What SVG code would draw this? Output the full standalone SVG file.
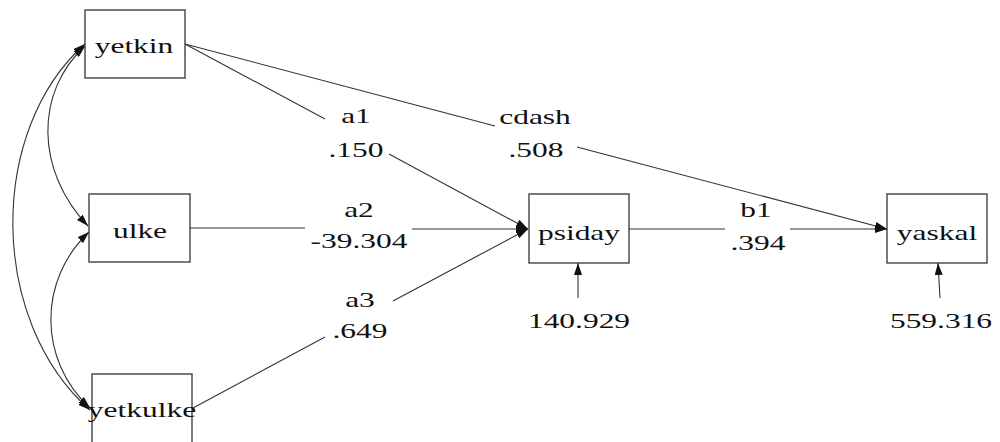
<svg xmlns="http://www.w3.org/2000/svg" width="1000" height="442" viewBox="0 0 1000 442" font-family="Liberation Serif, DejaVu Serif, serif">
  <defs>
    <marker id="ah" viewBox="0 0 12 8" refX="12" refY="4" markerWidth="12" markerHeight="8" markerUnits="userSpaceOnUse" orient="auto-start-reverse">
      <path d="M0,0 L12,4 L0,8 Z" fill="#111"/>
    </marker>
  </defs>
  <style>
    .box { fill: #fff; stroke: #333; stroke-width: 1.3; }
    .ln { fill: none; stroke: #333; stroke-width: 1.1; }
    .t { font-size: 22px; fill: #111; text-anchor: middle; }
  </style>
  <rect width="1000" height="442" fill="#fff"/>

  <g id="connectors">
    <!-- covariances -->
    <path class="ln" d="M85,46 C35,92 35,170 88,226" marker-start="url(#ah)" marker-end="url(#ah)"/>
    <path class="ln" d="M89,232 C38,280 38,360 90,408" marker-start="url(#ah)" marker-end="url(#ah)"/>
    <path class="ln" d="M85,44 C-12,130 -12,320 90,410" marker-start="url(#ah)" marker-end="url(#ah)"/>
    <!-- a1 -->
    <line class="ln" x1="185" y1="44" x2="325" y2="119"/>
    <line class="ln" x1="389" y1="154" x2="528" y2="229" marker-end="url(#ah)"/>
    <!-- cdash -->
    <line class="ln" x1="185" y1="44" x2="495" y2="126"/>
    <line class="ln" x1="577" y1="147" x2="887" y2="229" marker-end="url(#ah)"/>
    <!-- a2 -->
    <line class="ln" x1="190" y1="228" x2="305" y2="228"/>
    <line class="ln" x1="412" y1="229" x2="528" y2="229" marker-end="url(#ah)"/>
    <!-- a3 -->
    <line class="ln" x1="193" y1="408" x2="325" y2="337"/>
    <line class="ln" x1="393" y1="301" x2="528" y2="229" marker-end="url(#ah)"/>
    <!-- b1 -->
    <line class="ln" x1="629" y1="229" x2="725" y2="229"/>
    <line class="ln" x1="790" y1="229" x2="887" y2="229" marker-end="url(#ah)"/>
    <!-- residuals -->
    <line class="ln" x1="578" y1="298" x2="578" y2="263" marker-end="url(#ah)"/>
    <line class="ln" x1="940" y1="298" x2="938" y2="263" marker-end="url(#ah)"/>
  </g>

  <g id="labels" font-family="Liberation Serif, serif">
    <text class="t" transform="translate(356,123) scale(1.43,1)">a1</text>
    <text class="t" transform="translate(356,157) scale(1.43,1)">.150</text>
    <text class="t" transform="translate(535,124) scale(1.43,1)">cdash</text>
    <text class="t" transform="translate(536,157) scale(1.43,1)">.508</text>
    <text class="t" transform="translate(359,217) scale(1.43,1)">a2</text>
    <text class="t" transform="translate(359,248) scale(1.43,1)">-39.304</text>
    <text class="t" transform="translate(360,307) scale(1.43,1)">a3</text>
    <text class="t" transform="translate(360,338) scale(1.43,1)">.649</text>
    <text class="t" transform="translate(756,217) scale(1.43,1)">b1</text>
    <text class="t" transform="translate(758,250) scale(1.43,1)">.394</text>
    <text class="t" transform="translate(579,328) scale(1.43,1)">140.929</text>
    <text class="t" transform="translate(941,328) scale(1.43,1)">559.316</text>
  </g>

  <g id="yetkin">
    <rect class="box" x="85" y="10" width="100" height="68"/>
    <text class="t" font-family="Liberation Serif, serif" transform="translate(134,53) scale(1.43,1)">yetkin</text>
  </g>
  <g id="ulke">
    <rect class="box" x="89" y="194" width="101" height="68"/>
    <text class="t" font-family="Liberation Serif, serif" transform="translate(140,238) scale(1.43,1)">ulke</text>
  </g>
  <g id="yetkulke">
    <rect class="box" x="92" y="374" width="100" height="80"/>
    <text class="t" font-family="Liberation Serif, serif" transform="translate(142,417) scale(1.43,1)">yetkulke</text>
  </g>
  <g id="psiday">
    <rect class="box" x="529" y="194" width="100" height="69"/>
    <text class="t" font-family="Liberation Serif, serif" transform="translate(579,240) scale(1.43,1)">psiday</text>
  </g>
  <g id="yaskal">
    <rect class="box" x="887" y="194" width="100" height="69"/>
    <text class="t" font-family="Liberation Serif, serif" transform="translate(937,240) scale(1.43,1)">yaskal</text>
  </g>
</svg>
